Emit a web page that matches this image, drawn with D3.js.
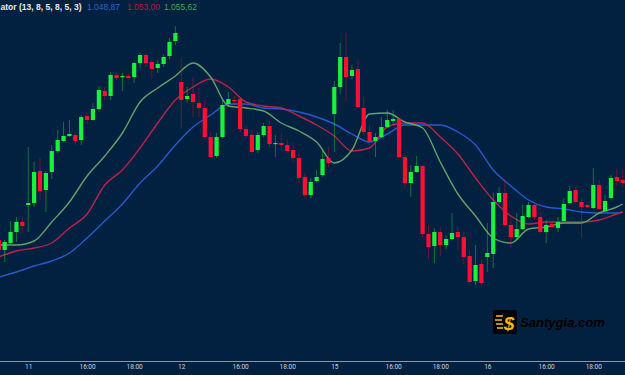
<!DOCTYPE html>
<html><head><meta charset="utf-8">
<script src="https://cdn.jsdelivr.net/npm/d3@7"></script>
<style>html,body{margin:0;padding:0;background:#02203f;overflow:hidden}svg{display:block}</style>
</head><body>
<script>
// ---- data (15-min candles) ----
const open  = [1020,1010,1017,1028,1038,1055,1057,1089,1070,1088,1109,1119,1124,1125,1120,1144,1140,1151,1169,1164,1185,1183,1184,1183,1197,1205,1198,1192,1196,1204,1219,1178,1161,1166,1157,1152,1123,1104,1123,1156,1160,1161,1131,1125,1110,1125,1134,1116,1117,1115,1110,1102,1083,1065,1079,1085,1102,1146,1173,1203,1184,1191,1152,1128,1119,1123,1133,1139,1141,1103,1077,1088,1094,1026,1014,1028,1015,1021,1028,1023,1004,979,996,1003,1006,1058,1067,1035,1023,1031,1043,1055,1043,1028,1036,1032,1039,1057,1070,1058,1055,1052,1075,1049,1062,1083,1080];
const high  = [1022,1020,1039,1043,1043,1113,1098,1102,1089,1115,1130,1138,1140,1127,1145,1147,1157,1174,1173,1188,1187,1187,1186,1198,1207,1207,1200,1200,1206,1222,1234,1202,1173,1183,1172,1160,1128,1127,1160,1168,1164,1163,1134,1130,1128,1137,1140,1125,1127,1121,1117,1107,1087,1082,1090,1110,1113,1179,1217,1227,1195,1201,1162,1135,1127,1143,1150,1150,1142,1105,1095,1104,1095,1035,1032,1033,1025,1047,1032,1028,1010,1015,1000,1037,1067,1073,1081,1042,1047,1055,1058,1057,1048,1040,1039,1043,1062,1074,1073,1062,1057,1092,1080,1065,1085,1091,1090];
const low   = [1007,998,1015,1018,1027,1028,1053,1060,1048,1081,1107,1118,1123,1115,1115,1136,1139,1150,1160,1160,1180,1169,1180,1177,1192,1193,1181,1187,1193,1201,1215,1132,1157,1143,1143,1121,1102,1102,1122,1154,1152,1128,1122,1106,1107,1123,1113,1103,1110,1107,1097,1077,1062,1062,1077,1083,1093,1108,1166,1158,1181,1152,1125,1115,1103,1122,1132,1135,1102,1071,1063,1087,1022,1001,997,1004,1011,1020,1010,996,976,975,973,988,992,1056,1033,1012,1020,1030,1042,1040,1026,1017,1032,1028,1038,1056,1057,1022,1052,1051,1050,1048,1061,1074,1073];
const close = [1010,1018,1028,1038,1034,1057,1088,1069,1087,1109,1120,1124,1126,1119,1143,1140,1151,1170,1164,1185,1182,1184,1182,1197,1205,1197,1191,1196,1203,1218,1227,1160,1164,1158,1152,1123,1103,1123,1155,1161,1159,1131,1124,1108,1125,1134,1116,1117,1115,1109,1102,1082,1065,1078,1083,1101,1097,1173,1203,1183,1190,1153,1128,1118,1123,1133,1140,1141,1103,1077,1088,1094,1026,1013,1028,1015,1021,1027,1023,1003,978,995,977,1007,1058,1067,1035,1023,1031,1044,1055,1043,1028,1035,1033,1038,1056,1069,1058,1053,1053,1075,1051,1059,1082,1079,1077];

// Alligator lines (candle index -> price)
const lineIdx = [0,3,6,9,12,15,18,21,24,27,30,33,36,39,42,45,48,51,54,57,60,63,66,69,72,75,78,81,84,87,90,93,96,99,102,105,106];
const jaw   = [983,988,994,999,1007,1022,1039,1056,1077,1094,1115,1133,1145,1156,1156,1152,1151,1148,1143,1136,1126,1118,1126,1135,1135,1135,1128,1115,1090,1074,1060,1053,1051,1048,1047,1047,1048];
const teeth = [1003,1009,1012,1017,1032,1046,1075,1090,1112,1137,1160,1173,1181,1173,1158,1154,1152,1144,1135,1124,1109,1112,1133,1137,1137,1123,1106,1082,1060,1044,1036,1038,1038,1038,1040,1046,1048];
const lips  = [1015,1015,1019,1038,1058,1084,1104,1127,1158,1172,1184,1197,1183,1154,1152,1149,1137,1129,1118,1097,1110,1146,1147,1138,1132,1098,1066,1044,1022,1017,1031,1033,1037,1037,1047,1053,1056];

const tickIdx    = [5,15,23,31,41,49,57,67,75,83,93,101];
const tickLabels = ["11","16:00","18:00","12","16:00","18:00","15","16:00","18:00","16","16:00","18:00"];

// legend as visible in the reference (title scrolled off to the left)
const legendTitle = "ator (13, 8, 5, 8, 5, 3)";
const legendValues = ["1.048,87","1.053,00","1.055,62"];

// ---- drawing ----
const W = 625, H = 375;
const svg = d3.select("body").append("svg").attr("width", W).attr("height", H);
svg.append("rect").attr("width", W).attr("height", H).attr("fill", "#02203f");

const x = d3.scaleLinear().domain([0, 106]).range([-1.2, 622.7]);
const y = d3.scaleLinear().domain([1260, 885]).range([0, 375]);

const up = "#19f23c", down = "#ff0f33";

// alligator lines
const lineGen = d3.line().x(d => x(d[0])).y(d => y(d[1])).curve(d3.curveMonotoneX);
const series = [
  {vals: jaw, color: "#2659cf"},
  {vals: teeth, color: "#b8254b"},
  {vals: lips, color: "#62a26c"}
];
series.forEach(s => {
  svg.append("path")
    .datum(lineIdx.map((i, k) => [i, s.vals[k]]))
    .attr("fill", "none").attr("stroke", s.color).attr("stroke-width", 1.4)
    .attr("d", lineGen);
});

// candles
const candles = open.map((o, i) => ({i, o, h: high[i], l: low[i], c: close[i]}));
const g = svg.append("g");
g.selectAll("line.wick").data(candles).join("line")
  .attr("x1", d => x(d.i)).attr("x2", d => x(d.i))
  .attr("y1", d => y(d.h)).attr("y2", d => y(d.l))
  .attr("stroke", d => d.c >= d.o ? up : down)
  .attr("stroke-opacity", 0.4).attr("stroke-width", 1);
g.selectAll("rect.body").data(candles).join("rect")
  .attr("x", d => x(d.i) - 2.1).attr("width", 4.2)
  .attr("y", d => y(Math.max(d.o, d.c)))
  .attr("height", d => Math.max(1.2, Math.abs(y(d.o) - y(d.c))))
  .attr("fill", d => d.c >= d.o ? up : down);

// time axis
svg.append("line").attr("x1", 0).attr("x2", W).attr("y1", 361.5).attr("y2", 361.5)
  .attr("stroke", "#8a97a8").attr("stroke-width", 1);
const axis = d3.axisBottom(x).tickValues(tickIdx).tickFormat((d, k) => tickLabels[k])
  .tickSize(0).tickPadding(3);
const ag = svg.append("g").attr("transform", "translate(0,361.5)").call(axis);
ag.select(".domain").remove();
ag.selectAll("text").attr("fill", "#cdd5df").style("font-size", "6.5px")
  .style("font-family", "Roboto, 'Liberation Sans', sans-serif");

// legend
svg.append("text").attr("x", 0.5).attr("y", 10)
  .attr("textLength", 81).attr("lengthAdjust", "spacingAndGlyphs")
  .attr("fill", "#e6eaf0").style("font-size", "9px").style("font-weight", "bold")
  .style("font-family", "'Liberation Sans', Arial, sans-serif").text(legendTitle);
const legendX = [87, 127, 164];
const legendColors = ["#2e63d8", "#b81a44", "#45a453"];
legendValues.forEach((v, k) => {
  svg.append("text").attr("x", legendX[k]).attr("y", 10).attr("fill", legendColors[k])
    .attr("textLength", 33).attr("lengthAdjust", "spacingAndGlyphs")
    .style("font-size", "9px").style("font-family", "'Liberation Sans', Arial, sans-serif").text(v);
});

// watermark
const wm = svg.append("g");
wm.append("rect").attr("x", 493).attr("y", 310).attr("width", 24).attr("height", 24).attr("rx", 2).attr("fill", "#000");
[[496,316,503],[495,320,502],[496,324,503],[497,328,503]].forEach(a => {
  wm.append("line").attr("x1", a[0]).attr("x2", a[2]).attr("y1", a[1]).attr("y2", a[1])
    .attr("stroke", "#f6b800").attr("stroke-width", 1.6);
});
wm.append("text").attr("x", 509).attr("y", 330).attr("text-anchor", "middle")
  .attr("fill", "#f6b800").style("font-size", "19px").style("font-weight", "bold").style("font-style", "italic")
  .style("font-family", "'Liberation Sans', Arial, sans-serif").text("$");
wm.append("text").attr("x", 520).attr("y", 327).attr("fill", "#000")
  .attr("textLength", 85).attr("lengthAdjust", "spacingAndGlyphs")
  .style("font-size", "13px").style("font-weight", "bold").style("font-style", "italic")
  .style("font-family", "'Liberation Sans', Arial, sans-serif").text("Santygia.com");
</script>
</body></html>
